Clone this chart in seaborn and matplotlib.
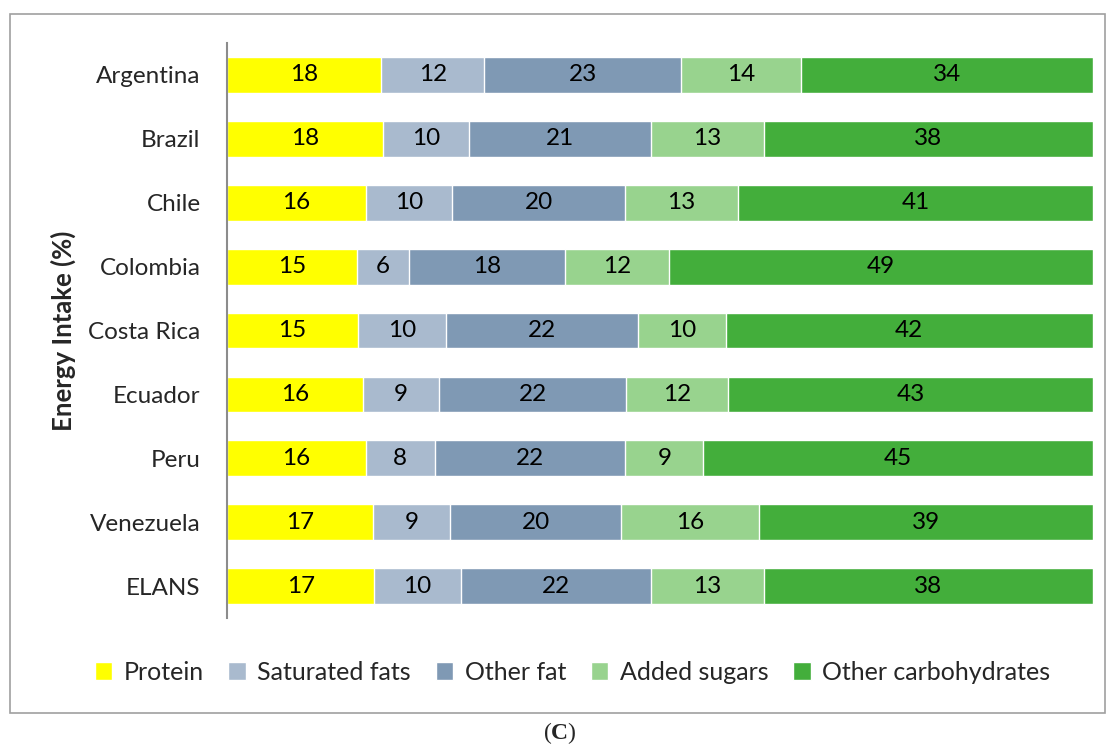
import pandas as pd
import numpy as np
import matplotlib
matplotlib.use('Agg')
import matplotlib.pyplot as plt
import seaborn as sns
from matplotlib.patches import Patch, Rectangle

# data (% of energy intake)
countries = ['Argentina', 'Brazil', 'Chile', 'Colombia', 'Costa Rica',
             'Ecuador', 'Peru', 'Venezuela', 'ELANS']
protein = [18, 18, 16, 15, 15, 16, 16, 17, 17]
sat_fats = [12, 10, 10, 6, 10, 9, 8, 9, 10]
other_fat = [23, 21, 20, 18, 22, 22, 22, 20, 22]
added_sugars = [14, 13, 13, 12, 10, 12, 9, 16, 13]
other_carbs = [34, 38, 41, 49, 42, 43, 45, 39, 38]

components = ['Protein', 'Saturated fats', 'Other fat', 'Added sugars', 'Other carbohydrates']
colors = ['#FFFF00', '#A9BACE', '#7F99B4', '#98D38E', '#43AE3B']

df = pd.DataFrame({'country': countries, 'Protein': protein,
                   'Saturated fats': sat_fats, 'Other fat': other_fat,
                   'Added sugars': added_sugars, 'Other carbohydrates': other_carbs})

# 100% stacked: normalise each row
totals = df[components].sum(axis=1)
share = df[components].div(totals, axis=0) * 100
cum = share.cumsum(axis=1)

sns.set_theme(style='white')
plt.rcParams['font.family'] = ['Lato', 'DejaVu Sans']
plt.rcParams['mathtext.fontset'] = 'custom'
plt.rcParams['mathtext.rm'] = 'Liberation Serif'
plt.rcParams['mathtext.bf'] = 'Liberation Serif:bold'

fs = 17.5

fig = plt.figure(figsize=(11.07, 7.45), dpi=100)
ax = fig.add_axes([227 / 1107, 1 - 618 / 745, (1093 - 227) / 1107, (618 - 43) / 745])

# draw from the outermost cumulative segment inwards
for comp, col in reversed(list(zip(components, colors))):
    plot_df = pd.DataFrame({'country': countries, 'x': cum[comp].values})
    sns.barplot(data=plot_df, x='x', y='country', color=col, orient='h',
                width=0.56, edgecolor='white', linewidth=1, saturation=1, ax=ax)

# value labels in segment centres
for i, c in enumerate(countries):
    for comp in components:
        mid = cum.loc[i, comp] - share.loc[i, comp] / 2
        ax.text(mid, i, str(df.loc[i, comp]), ha='center', va='center',
                fontsize=fs, color='black')

ax.set_xlim(0, 100)
ax.set_ylim(8.5, -0.5)
ax.set_xlabel('')
ax.set_ylabel('Energy Intake (%)', fontsize=18.5, fontweight='bold', labelpad=9)
ax.set_xticks([])
ax.tick_params(axis='y', length=0, labelsize=fs, pad=19)
for s in ['top', 'right', 'bottom']:
    ax.spines[s].set_visible(False)
ax.spines['left'].set_color('#8c8c8c')
ax.spines['left'].set_linewidth(1.5)

handles = [Patch(facecolor=c, label=l) for l, c in zip(components, colors)]
fig.legend(handles=handles, loc='center', bbox_to_anchor=(0.517, 1 - 672 / 745),
           ncol=5, frameon=False, fontsize=fs + 0.5, handlelength=0.7, handleheight=0.7,
           handletextpad=0.45, columnspacing=1.0)

# outer frame and panel tag
fig.patches.append(Rectangle((10 / 1107, 1 - 713 / 745), (1105 - 10) / 1107,
                             (713 - 14) / 745, transform=fig.transFigure,
                             fill=False, edgecolor='#a0a0a0', linewidth=1.2))
fig.text(560 / 1107, 1 - 733 / 745, r'(${\bf C}$)', ha='center', va='center',
         fontsize=17, family='Liberation Serif')

fig.savefig('out.png', dpi=100)
